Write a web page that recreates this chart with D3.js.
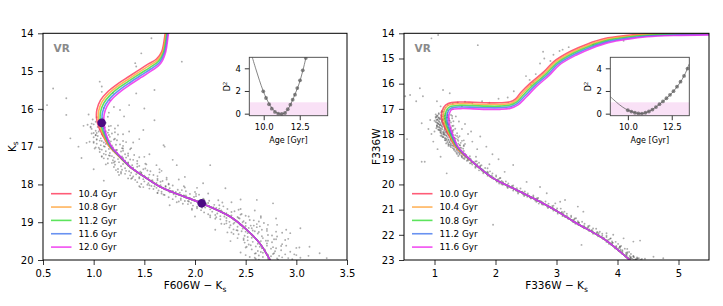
<!DOCTYPE html>
<html>
<head>
<meta charset="utf-8">
<script src="https://cdn.jsdelivr.net/npm/d3@7"></script>
<style>
body{margin:0;background:#fff}
svg{display:block;font-family:"DejaVu Sans",sans-serif}
</style>
</head>
<body>
<div id="chart"></div>
<script>
// ---- data ----
const leftAges = ["10.4 Gyr","10.8 Gyr","11.2 Gyr","11.6 Gyr","12.0 Gyr"];
const rightAges = ["10.0 Gyr","10.4 Gyr","10.8 Gyr","11.2 Gyr","11.6 Gyr"];
const isoColors = ["#ff3355","#ffa033","#33dd33","#4477ee","#ee22ee"];

// middle isochrone: [colour, mag, colour step per age, mag step per age]
const leftIso = [[1.735,13.8,0.008,0],[1.722,14.0,0.008,0],[1.69,14.5,0.009,0.01],[1.64,14.74,0.01,0.03],[1.556,14.9,0.008,0.045],
  [1.457,15.07,0.006,0.048],[1.36,15.24,0.006,0.048],[1.26,15.42,0.008,0.048],[1.165,15.63,0.012,0.045],[1.10,15.85,0.016,0.04],
  [1.068,16.08,0.018,0.03],[1.065,16.3,0.018,0.02],[1.08,16.5,0.015,0.01],[1.1,16.65,0.011,0.005],[1.16,16.98,0.006,0],
  [1.26,17.27,0.003,0],[1.375,17.57,0.001,0],[1.49,17.78,0,0],[1.655,18.06,0,0],[1.852,18.28,0,0],[2.066,18.5,0,0],
  [2.345,18.85,0,0],[2.51,19.2,0,0],[2.64,19.56,0,0],[2.74,20.0,0,0],[2.78,20.2,0,0]];
const rightIso = [[5.6,14.02,0,0.02],[4.915,14.04,0,0.025],[4.48,14.08,0.005,0.03],[4.15,14.16,0.01,0.035],[3.82,14.29,0.015,0.04],
  [3.55,14.5,0.02,0.04],[3.275,14.79,0.022,0.04],[3.0,15.19,0.022,0.035],[2.84,15.59,0.022,0.035],[2.62,16.05,0.022,0.04],
  [2.456,16.45,0.02,0.05],[2.35,16.72,0.01,0.06],[2.24,16.85,0,0.065],[2.07,16.89,0,0.065],[1.856,16.89,0,0.065],
  [1.636,16.87,0,0.065],[1.418,16.86,0.005,0.065],[1.254,16.91,0.015,0.06],[1.2,17.04,0.025,0.05],[1.172,17.31,0.03,0.03],
  [1.189,17.57,0.028,0.02],[1.254,17.97,0.02,0.01],[1.364,18.5,0.01,0],[1.528,18.9,0.004,0],[1.718,19.3,0,0],
  [1.964,19.76,0,0],[2.29,20.15,0,0],[2.62,20.55,0,0],[3.0,21.05,0,0],[3.3,21.5,0,0],[3.8,22.2,0,0],[4.2,23.0,0,0],[4.3,23.2,0,0]];

const leftMarkers = [[1.079,16.37],[2.066,18.5]];

// stars [colour, mag]
const leftStarsTurnoff = [[1.03,16.22],[1.09,16.25],[0.99,16.28],[1.14,16.21],[1.06,16.31],[1.02,16.34],[1.12,16.37],[0.98,16.39],[1.09,16.33],
[1.0,16.41],[1.07,16.44],[1.15,16.46],[1.04,16.48],[1.1,16.43],[0.97,16.49],[1.1,16.51],[0.98,16.53],[1.06,16.55],[1.15,16.56],[1.02,16.58],[1.12,16.59],[1.21,16.52],
[1.05,16.6],[1.11,16.62],[1.0,16.64],[1.18,16.65],[1.08,16.67],[1.24,16.68],[1.02,16.69],[1.14,16.63],
[1.09,16.71],[1.04,16.72],[1.16,16.74],[1.0,16.75],[1.13,16.76],[1.07,16.78],[1.21,16.79],[1.02,16.7],[1.11,16.77],
[1.03,16.8],[1.13,16.82],[1.23,16.83],[1.08,16.85],[1.17,16.86],[1.0,16.87],[1.32,16.88],[1.1,16.89],[1.06,16.84],[1.2,16.81],
[1.16,16.91],[1.03,16.92],[1.12,16.93],[1.22,16.95],[1.07,16.96],[1.18,16.97],[1.29,16.98],[1.1,16.99],[1.26,16.94],[1.0,16.9],
[1.11,17.0],[1.19,17.02],[1.05,17.03],[1.28,17.04],[1.15,17.06],[1.36,17.07],[1.08,17.08],[1.23,17.09],[1.01,17.05],[1.17,17.01],
[1.19,17.1],[1.12,17.12],[1.27,17.13],[1.06,17.14],[1.23,17.16],[1.16,17.17],[1.34,17.18],[1.1,17.19],[1.21,17.15],[1.29,17.11],
[1.12,17.21],[1.24,17.22],[1.34,17.24],[1.18,17.25],[1.28,17.26],[1.08,17.27],[1.45,17.28],[1.2,17.29],[1.15,17.23],[1.31,17.2],
[1.29,17.3],[1.14,17.32],[1.24,17.33],[1.36,17.34],[1.19,17.36],[1.31,17.37],[1.43,17.38],[1.21,17.39],[1.39,17.35],[1.1,17.31],
[1.25,17.41],[1.34,17.42],[1.18,17.43],[1.43,17.45],[1.29,17.46],[1.52,17.47],[1.21,17.48],[1.38,17.49],[1.14,17.44],[1.31,17.4],
[1.34,17.5],[1.27,17.52],[1.43,17.53],[1.2,17.54],[1.39,17.56],[1.31,17.57],[1.51,17.58],[1.24,17.59],[1.36,17.55],[1.45,17.51],
[1.28,17.61],[1.41,17.62],[1.53,17.63],[1.35,17.65],[1.46,17.66],[1.24,17.67],[1.65,17.68],[1.37,17.69],[1.32,17.64],[1.49,17.6],
[1.47,17.7],[1.31,17.72],[1.42,17.73],[1.55,17.74],[1.36,17.76],[1.5,17.77],[1.63,17.78],[1.39,17.79],[1.59,17.75],[1.27,17.71]];
const leftStarsMS = [[1.45,17.81],[1.54,17.82],[1.38,17.83],[1.63,17.85],[1.49,17.86],[1.72,17.87],[1.41,17.88],[1.58,17.89],[1.34,17.84],[1.51,17.8],
[1.57,17.9],[1.5,17.92],[1.66,17.93],[1.43,17.94],[1.62,17.96],[1.54,17.97],[1.74,17.98],[1.47,17.99],[1.59,17.95],[1.68,17.91],
[1.53,18.01],[1.66,18.02],[1.78,18.03],[1.6,18.05],[1.71,18.06],[1.49,18.07],[1.9,18.08],[1.62,18.09],[1.57,18.04],[1.74,18.0],
[1.75,18.1],[1.59,18.12],[1.7,18.13],[1.83,18.14],[1.64,18.16],[1.78,18.17],[1.91,18.18],[1.67,18.19],[1.87,18.15],[1.55,18.11],
[1.75,18.21],[1.85,18.22],[1.67,18.24],[1.95,18.25],[1.79,18.26],[2.04,18.27],[1.7,18.28],[1.89,18.29],[1.63,18.23],[1.81,18.2],
[1.89,18.3],[1.81,18.32],[1.99,18.33],[1.74,18.34],[1.95,18.36],[1.86,18.37],[2.08,18.38],[1.78,18.39],[1.91,18.35],[2.01,18.31],
[1.86,18.41],[2.0,18.42],[2.14,18.43],[1.94,18.45],[2.06,18.46],[1.82,18.47],[2.27,18.48],[1.96,18.49],[1.9,18.44],[2.09,18.4],
[2.11,18.5],[1.93,18.52],[2.05,18.53],[2.19,18.54],[1.98,18.56],[2.14,18.57],[2.28,18.58],[2.02,18.59],[2.24,18.55],[1.88,18.51],
[2.1,18.61],[2.21,18.62],[2.02,18.63],[2.32,18.65],[2.15,18.66],[2.43,18.67],[2.06,18.68],[2.26,18.69],[1.97,18.64],[2.18,18.6],
[2.25,18.7],[2.17,18.72],[2.36,18.73],[2.09,18.74],[2.31,18.76],[2.22,18.77],[2.46,18.78],[2.13,18.79],[2.28,18.75],[2.39,18.71],
[2.2,18.81],[2.36,18.82],[2.5,18.83],[2.29,18.85],[2.42,18.86],[2.15,18.87],[2.65,18.88],[2.31,18.89],[2.25,18.84],[2.45,18.8],
[2.44,18.9],[2.25,18.92],[2.38,18.93],[2.54,18.94],[2.31,18.96],[2.48,18.97],[2.63,18.98],[2.34,18.99],[2.58,18.95],[2.2,18.91],
[2.39,19.01],[2.5,19.02],[2.31,19.03],[2.61,19.05],[2.44,19.06],[2.72,19.07],[2.35,19.08],[2.55,19.09],[2.26,19.04],[2.47,19.0],
[2.5,19.1],[2.42,19.12],[2.61,19.13],[2.34,19.14],[2.56,19.16],[2.47,19.17],[2.71,19.18],[2.38,19.19],[2.53,19.15],[2.64,19.11],
[2.41,19.21],[2.57,19.22],[2.71,19.23],[2.5,19.25],[2.63,19.26],[2.36,19.27],[2.86,19.28],[2.52,19.29],[2.46,19.24],[2.66,19.2],
[2.62,19.3],[2.43,19.32],[2.56,19.33],[2.72,19.34],[2.49,19.36],[2.66,19.37],[2.81,19.38],[2.52,19.39],[2.76,19.35],[2.38,19.31],
[2.56,19.41],[2.67,19.42],[2.48,19.43],[2.78,19.45],[2.61,19.46],[2.89,19.47],[2.52,19.48],[2.72,19.49],
[2.65,19.5],[2.57,19.52],[2.76,19.53],[2.49,19.54],[2.71,19.56],[2.62,19.57],[2.86,19.58],[2.53,19.59],
[2.55,19.61],[2.71,19.62],[2.85,19.63],[2.64,19.65],[2.77,19.66],[2.5,19.67],[3.0,19.68],[2.66,19.69],
[2.75,19.7],[2.56,19.72],[2.69,19.73],[2.85,19.74],[2.62,19.76],[2.79,19.77],[2.94,19.78],[2.65,19.79],
[2.67,19.81],[2.78,19.82],[2.59,19.83],[2.89,19.85],[2.72,19.86],[3.0,19.87],[2.63,19.88],[2.83,19.89],
[2.75,19.9],[2.67,19.92],[2.86,19.93],[2.59,19.94],[2.81,19.96],[2.72,19.97],[2.96,19.98],[2.63,19.99]];
const leftStarsWide = [[0.94,16.42],[1.17,16.45],[0.97,16.47],[1.24,16.44],[1.11,16.49],
[1.21,16.62],[0.98,16.65],[1.29,16.67],[1.03,16.64],[1.15,16.69],[1.03,16.82],[1.29,16.85],[0.96,16.87],[1.15,16.84],[1.39,16.89],
[1.02,17.02],[1.29,17.05],[1.06,17.07],[1.37,17.04],[1.22,17.09],[1.4,17.22],[1.08,17.25],[1.5,17.27],[1.16,17.24],[1.32,17.29],
[1.2,17.42],[1.51,17.45],[1.12,17.47],[1.34,17.44],[1.62,17.49],[1.22,17.62],[1.56,17.65],[1.27,17.67],[1.67,17.64],[1.47,17.69],
[1.72,17.82],[1.37,17.85],[1.84,17.87],[1.45,17.84],[1.63,17.89],[1.55,18.02],[1.89,18.05],[1.46,18.07],[1.71,18.04],[2.02,18.09],
[1.63,18.22],[2.01,18.25],[1.69,18.27],[2.13,18.24],[1.91,18.29],[2.23,18.42],[1.84,18.45],[2.36,18.47],[1.93,18.44],[2.13,18.49],
[2.07,18.62],[2.45,18.65],[1.97,18.67],[2.24,18.64],[2.59,18.69],[2.15,18.82],[2.53,18.85],[2.21,18.87],[2.65,18.84],[2.43,18.89],
[2.68,19.02],[2.29,19.05],[2.81,19.07],[2.38,19.04],[2.58,19.09],[2.42,19.22],[2.8,19.25],[2.32,19.27],[2.59,19.24],[2.94,19.29],
[2.42,19.42],[2.8,19.45],[2.48,19.47],[2.92,19.44],[2.7,19.49],[2.9,19.62],[2.51,19.65],[3.03,19.67],[2.6,19.64],[2.8,19.69],
[2.6,19.82],[2.98,19.85],[2.5,19.87],[2.77,19.84],[3.12,19.89],[2.54,19.92],[2.92,19.95],[2.6,19.97],[3.04,19.94],[2.82,19.99]];
const leftField = [[1.41,14.79],[1.42,14.88],[1.47,14.53],[1.57,14.13],[0.6,15.46],[0.73,15.72],[0.54,15.9],[0.5,16.03],[0.73,16.16],
[0.77,16.78],[1.08,15.41],[1.08,15.55],[1.06,15.28],[1.16,15.77],[1.19,15.58],[1.26,16.03],[1.42,15.59],[1.49,16.56],[1.69,16.96],
[1.78,17.35],[1.5,15.99],[1.6,15.5],[1.87,14.75],[1.7,17.0],[1.82,17.49],[2.15,17.49],[2.08,17.97],[2.61,18.41],[2.77,18.5],
[2.8,18.9],[2.9,19.2],[3.04,19.16],[3.13,19.65],[3.23,19.82],[1.15,16.1],[1.2,15.95],[1.3,16.2],[1.35,15.9],[1.1,15.98],
[0.95,16.15],[0.9,16.45],[0.85,17.0],[0.88,17.3],[1.0,17.6],[1.1,17.9],[1.55,17.2],[1.65,17.6],[1.9,17.8],[2.0,18.2],
[2.3,18.1],[2.45,18.4],[1.35,16.6],[1.45,16.8],[1.6,16.3],[0.93,16.9],[1.25,17.75],[1.45,18.05],[1.75,18.55],[2.0,18.85],
[2.2,19.2],[2.35,19.5],[2.45,19.8],[3.3,19.95]];

const rightStarsTurnoff = [[1.16,17.02],[1.22,17.05],[1.12,17.08],[1.27,17.01],[1.15,17.1],[1.11,17.13],[1.21,17.15],[1.07,17.17],[1.18,17.19],[1.13,17.12],
[1.07,17.21],[1.14,17.22],[1.22,17.24],[1.11,17.25],[1.17,17.26],[1.04,17.27],[1.29,17.28],[1.12,17.29],
[1.14,17.3],[1.04,17.32],[1.11,17.33],[1.19,17.34],[1.07,17.36],[1.16,17.37],[1.24,17.38],[1.09,17.39],[1.21,17.35],[1.02,17.31],
[1.09,17.41],[1.15,17.42],[1.05,17.43],[1.2,17.45],[1.12,17.46],[1.25,17.47],[1.07,17.48],[1.17,17.49],[1.03,17.44],[1.13,17.4],
[1.12,17.5],[1.08,17.52],[1.18,17.53],[1.04,17.54],[1.15,17.56],[1.1,17.57],[1.22,17.58],[1.06,17.59],[1.13,17.55],[1.19,17.51],
[1.07,17.61],[1.14,17.62],[1.22,17.63],[1.11,17.65],[1.17,17.66],[1.04,17.67],[1.29,17.68],[1.12,17.69],[1.09,17.64],[1.19,17.6],
[1.16,17.7],[1.06,17.72],[1.13,17.73],[1.21,17.74],[1.09,17.76],[1.18,17.77],[1.26,17.78],[1.11,17.79],[1.23,17.75],[1.04,17.71],
[1.13,17.81],[1.19,17.82],[1.09,17.83],[1.24,17.85],[1.16,17.86],[1.29,17.87],[1.11,17.88],[1.21,17.89],[1.07,17.84],[1.17,17.8],
[1.18,17.9],[1.14,17.92],[1.24,17.93],[1.1,17.94],[1.21,17.96],[1.16,17.97],[1.28,17.98],[1.12,17.99],[1.19,17.95],[1.25,17.91],
[1.15,18.01],[1.22,18.02],[1.3,18.03],[1.19,18.05],[1.25,18.06],[1.12,18.07],[1.37,18.08],[1.2,18.09],[1.17,18.04],[1.27,18.0],
[1.25,18.1],[1.15,18.12],[1.22,18.13],[1.3,18.14],[1.18,18.16],[1.27,18.17],[1.35,18.18],[1.2,18.19],[1.32,18.15],[1.13,18.11],
[1.23,18.21],[1.29,18.22],[1.19,18.23],[1.34,18.25],[1.26,18.26],[1.39,18.27],[1.21,18.28],[1.31,18.29],[1.17,18.24],[1.27,18.2],
[1.29,18.3],[1.25,18.32],[1.35,18.33],[1.21,18.34],[1.32,18.36],[1.27,18.37],[1.39,18.38],[1.23,18.39],[1.3,18.35],
[1.26,18.41],[1.33,18.42],[1.41,18.43],[1.3,18.45],[1.36,18.46],[1.23,18.47],[1.48,18.48],[1.31,18.49],[1.28,18.44],
[1.37,18.5],[1.27,18.52],[1.34,18.53],[1.42,18.54],[1.3,18.56],[1.39,18.57],[1.47,18.58],[1.32,18.59],[1.44,18.55],
[1.36,18.61],[1.4,18.62],[1.32,18.63],[1.44,18.65],[1.37,18.66],[1.48,18.67],[1.34,18.68],[1.42,18.69],
[1.42,18.7],[1.39,18.72],[1.46,18.73],[1.36,18.74],[1.44,18.76],[1.41,18.77],[1.5,18.78],[1.37,18.79],
[1.41,18.81],[1.47,18.82],[1.52,18.83],[1.44,18.85],[1.49,18.86],[1.39,18.87],[1.58,18.88],[1.45,18.89],
[1.52,18.9],[1.45,18.92],[1.5,18.93],[1.56,18.94],[1.47,18.96],[1.54,18.97],[1.59,18.98],[1.49,18.99],
[1.02,17.22],[1.21,17.25],[1.05,17.27],[1.27,17.24],[1.16,17.29],[1.22,17.32],[1.02,17.35],[1.29,17.37],[1.07,17.34],[1.17,17.39],
[1.05,17.42],[1.24,17.45],[1.0,17.47],[1.14,17.44],[1.31,17.49],[1.02,17.52],[1.21,17.55],[1.05,17.57],[1.27,17.54],[1.16,17.59],
[1.24,17.62],[1.04,17.65],[1.31,17.67],[1.09,17.64],[1.19,17.69],[1.08,17.72],[1.27,17.75],[1.03,17.77],[1.17,17.74],[1.34,17.79],
[1.06,17.82],[1.25,17.85],[1.09,17.87],[1.31,17.84],[1.2,17.89],[1.3,17.92],[1.1,17.95],[1.37,17.97],[1.15,17.94],[1.25,17.99],
[1.15,18.02],[1.34,18.05],[1.1,18.07],[1.24,18.04],[1.41,18.09],[1.14,18.12],[1.33,18.15],[1.17,18.17],[1.39,18.14],[1.28,18.19],
[1.38,18.22],[1.18,18.25],[1.45,18.27],[1.23,18.24],[1.33,18.29],[1.24,18.32],[1.43,18.35],[1.19,18.37],[1.33,18.34],[1.5,18.39],
[1.23,18.42],[1.42,18.45],[1.26,18.47],[1.48,18.44],[1.37,18.49]];
const rightStarsMS = [[1.55,19.01],[1.6,19.04],[1.53,19.06],[1.67,19.09],[1.61,19.11],[1.73,19.14],[1.6,19.16],[1.7,19.19],
[1.62,19.21],[1.69,19.24],[1.75,19.26],[1.69,19.29],[1.75,19.31],[1.67,19.34],[1.87,19.36],[1.76,19.39],
[1.79,19.41],[1.73,19.44],[1.8,19.46],[1.87,19.49],[1.8,19.51],[1.88,19.54],[1.95,19.56],[1.86,19.59],
[1.88,19.61],[1.94,19.64],[1.87,19.66],[2.01,19.69],[1.95,19.71],[2.08,19.74],[1.95,19.76],[2.05,19.79],
[2.03,19.81],[2.02,19.84],[2.1,19.86],[2.02,19.89],[2.12,19.91],[2.11,19.94],[2.21,19.96],[2.1,19.99],
[2.12,20.01],[2.2,20.04],[2.27,20.06],[2.21,20.09],[2.28,20.11],[2.2,20.14],[2.41,20.16],[2.3,20.19],
[2.34,20.21],[2.29,20.24],[2.36,20.26],[2.44,20.29],[2.37,20.31],[2.46,20.34],[2.53,20.36],[2.45,20.39],
[2.47,20.41],[2.53,20.44],[2.47,20.46],[2.62,20.49],[2.56,20.51],[2.7,20.54],[2.58,20.56],[2.68,20.59],
[2.66,20.61],[2.65,20.64],[2.74,20.66],[2.67,20.69],[2.76,20.71],[2.76,20.74],[2.87,20.76],[2.76,20.79],
[2.78,20.81],[2.86,20.84],[2.93,20.86],[2.87,20.89],[2.94,20.91],[2.86,20.94],[3.07,20.96],[2.96,20.99],
[3.0,21.01],[2.95,21.04],[3.01,21.06],[3.09,21.09],[3.02,21.11],[3.11,21.14],[3.17,21.16],[3.09,21.19],
[3.11,21.21],[3.17,21.24],[3.1,21.26],[3.24,21.29],[3.19,21.31],[3.32,21.34],[3.19,21.36],[3.29,21.39],
[3.27,21.41],[3.26,21.44],[3.35,21.46],[3.27,21.49],[3.36,21.51],[3.36,21.54],[3.46,21.56],[3.35,21.59],
[3.37,21.61],[3.45,21.64],[3.52,21.66],[3.46,21.69],[3.52,21.71],[3.45,21.74],[3.65,21.76],[3.54,21.79],
[3.58,21.81],[3.53,21.84],[3.59,21.86],[3.67,21.89],[3.6,21.91],[3.69,21.94],[3.75,21.96],[3.67,21.99],
[3.69,22.01],[3.75,22.04],[3.68,22.06],[3.82,22.09],[3.76,22.11],[3.89,22.14],[3.76,22.16],[3.86,22.19],
[3.84,22.21],[3.82,22.24],[3.91,22.26],[3.82,22.29],[3.92,22.31],[3.9,22.34],[4.01,22.36],[3.89,22.39],
[3.91,22.41],[3.98,22.44],[4.04,22.46],[3.98,22.49],[4.04,22.51],[3.96,22.54],[4.16,22.56],[4.05,22.59],
[4.08,22.61],[4.02,22.64],[4.08,22.66],[4.16,22.69],[4.08,22.71],[4.16,22.74],[4.22,22.76],[4.14,22.79],
[4.15,22.81],[4.2,22.84],[4.13,22.86],[4.27,22.89],[4.21,22.91],[4.33,22.94],[4.2,22.96],[4.3,22.99],
[4.18,22.92],[4.24,22.95],[4.3,22.97],[4.22,22.88],[4.35,22.93],[4.27,22.99],[4.4,22.96],[4.2,22.98],[4.32,22.9],[4.26,22.86],[4.45,22.95],[4.38,22.99],
[1.55,19.05],[1.64,19.12],[1.69,19.08],[1.58,19.16],[1.77,19.24],[1.67,19.29],[1.73,19.33],[1.83,19.35],
[1.77,19.45],[1.86,19.52],[1.91,19.48],[1.8,19.56],[2.01,19.64],[1.91,19.69],[1.97,19.73],[2.07,19.75],
[2.03,19.85],[2.12,19.92],[2.17,19.88],[2.06,19.96],[2.29,20.04],[2.19,20.09],[2.25,20.13],[2.35,20.15],
[2.34,20.25],[2.43,20.32],[2.48,20.28],[2.37,20.36],[2.62,20.44],[2.52,20.49],[2.58,20.53],[2.68,20.55],
[2.68,20.65],[2.77,20.72],[2.82,20.68],[2.71,20.76],[2.95,20.84],[2.85,20.89],[2.91,20.93],[3.01,20.95],
[2.99,21.05],[3.08,21.12],[3.13,21.08],[3.02,21.16],[3.24,21.24],[3.14,21.29],[3.2,21.33],[3.3,21.35],
[3.28,21.45],[3.37,21.52],[3.42,21.48],[3.31,21.56],[3.54,21.64],[3.44,21.69],[3.5,21.73],[3.6,21.75],
[3.57,21.85],[3.66,21.92],[3.71,21.88],[3.6,21.96],[3.82,22.04],[3.72,22.09],[3.78,22.13],[3.88,22.15],
[3.83,22.25],[3.92,22.32],[3.97,22.28],[3.86,22.36],[4.06,22.44],[3.96,22.49],[4.02,22.53],[4.12,22.55],
[4.05,22.65],[4.14,22.72],[4.19,22.68],[4.08,22.76],[4.26,22.84],[4.16,22.89],[4.22,22.93],[4.32,22.95]];
const rightField = [[1.06,14.07],[0.95,14.2],[1.71,14.47],[2.78,14.73],[0.52,16.5],[0.6,16.45],[0.76,16.18],[0.81,16.5],[1.04,16.7],
[1.14,16.25],[1.25,16.38],[0.79,17.57],[0.93,17.44],[0.79,19.1],[0.84,19.1],[1.2,19.56],[1.96,21.6],[2.29,19.23],[2.51,19.9],
[2.73,20.1],[2.84,20.35],[2.98,20.75],[3.06,20.69],[3.14,20.62],[3.35,20.88],[3.44,21.08],[3.82,21.94],[3.93,22.0],[4.1,22.14],
[4.26,22.27],[4.37,22.23],[4.59,22.87],[4.75,22.93],[3.41,22.4],[4.04,22.47],[1.5,16.72],[1.62,16.78],[1.78,16.7],[1.9,16.76],
[2.05,16.6],[2.5,15.7],[2.56,15.85],[2.62,15.95],[2.58,16.05],[2.66,15.62],[2.73,15.2],[2.8,15.0],[2.95,14.85],[3.05,14.7],
[3.1,14.65],[2.9,15.1],[3.2,14.55],[4.1,14.3],[3.6,14.45],[2.3,16.3],[2.2,16.55],[1.45,17.8],[1.55,18.0],[1.62,18.3],[1.7,18.6],
[1.5,17.6],[1.75,18.1],[1.85,18.5],[1.95,18.8],[2.05,19.0],[1.4,17.5],[1.6,17.9],[1.9,19.2],[2.15,19.5],[1.68,18.9],[1.35,17.3],
[1.3,17.0],[1.48,18.25],[0.95,18.0],[0.98,18.3],[1.0,17.9],[0.9,17.8],[1.05,18.6],[1.1,18.9],[0.7,16.7],[0.55,18.2],
[1.18,16.95],[1.22,16.85],[1.3,16.8],[1.38,16.75],[1.45,16.9],[1.1,16.9]];

// inset: age [Gyr] vs D^2
const leftFitCurve = [[9.2,5.0],[9.45,3.95],[9.7,2.95],[9.95,2.05],[10.2,1.3],[10.45,0.72],[10.7,0.28],[10.95,0.04],[11.2,-0.04],
  [11.45,0.06],[11.7,0.42],[11.95,1.05],[12.2,1.8],[12.45,2.62],[12.7,3.72],[12.95,5.05]];
const leftFitPoints = [[9.97,1.97],[10.16,1.38],[10.37,0.83],[10.56,0.44],[10.78,0.15],[11.01,0.0],[11.25,-0.03],[11.48,0.06],
  [11.67,0.39],[11.85,0.79],[12.01,1.23],[12.17,1.67],[12.33,2.26],[12.52,2.94],[12.71,3.82],[12.92,4.91]];
const rightFitCurve = [[9.0,1.5],[9.52,0.79],[9.9,0.39],[10.28,0.15],[10.66,0.0],[11.04,0.09],[11.42,0.39],[11.8,0.83],
  [12.18,1.32],[12.56,1.91],[12.93,2.64],[13.22,3.38],[13.5,4.4]];
const rightFitPoints = [[10.0,0.3],[10.2,0.18],[10.4,0.08],[10.6,0.02],[10.8,0.01],[11.0,0.08],[11.2,0.19],[11.4,0.36],[11.6,0.58],
  [11.8,0.84],[12.0,1.08],[12.2,1.36],[12.4,1.66],[12.6,1.98],[12.8,2.38],[13.0,2.82],[13.2,3.33],[13.4,3.98]];

const leftXTicks = [0.5,1.0,1.5,2.0,2.5,3.0,3.5];
const leftYTicks = [14,15,16,17,18,19,20];
const rightXTicks = [1,2,3,4,5];
const rightYTicks = [14,15,16,17,18,19,20,21,22,23];
const insetXTicks = [10.0,12.5];
const insetYTicks = [0,2,4];

// ---- drawing ----
const svg = d3.select("#chart").append("svg").attr("width",723).attr("height",306);
svg.append("rect").attr("width",723).attr("height",306).attr("fill","#fff");

function styleAxis(g, size){
  g.select(".domain").remove();
  g.selectAll(".tick line").attr("stroke","#000").attr("stroke-width",0.8);
  g.selectAll(".tick text").attr("fill","#000").style("font-size",size+"px").style("font-family","DejaVu Sans");
}

function drawPanel(p){
  const x = d3.scaleLinear().domain(p.xDomain).range([p.left,p.right]);
  const y = d3.scaleLinear().domain(p.yDomain).range([p.top,p.bottom]);
  svg.append("clipPath").attr("id",p.id).append("rect")
    .attr("x",p.left).attr("y",p.top).attr("width",p.right-p.left).attr("height",p.bottom-p.top);
  const g = svg.append("g").attr("clip-path",`url(#${p.id})`);

  g.selectAll(null).data(p.stars).join("circle")
    .attr("cx",d=>x(d[0])).attr("cy",d=>y(d[1])).attr("r",0.95)
    .attr("fill","#3a3a3a").attr("fill-opacity",0.42);

  const line = d3.line().x(d=>x(d[0])).y(d=>y(d[1])).curve(d3.curveCatmullRom.alpha(0.5));
  p.ages.forEach((a,i)=>{
    const k = i-2;
    const pts = p.iso.map(d=>[d[0]+k*d[2], d[1]+k*d[3]]);
    g.append("path").attr("d",line(pts)).attr("fill","none")
      .attr("stroke",isoColors[i]).attr("stroke-width",1.6).attr("stroke-opacity",0.8);
  });

  if(p.markers){
    g.selectAll(null).data(p.markers).join("circle")
      .attr("cx",d=>x(d[0])).attr("cy",d=>y(d[1])).attr("r",4.3).attr("fill","#4b0a82");
  }

  svg.append("g").attr("transform",`translate(0,${p.bottom})`)
    .call(d3.axisBottom(x).tickValues(p.xTicks).tickFormat(p.xFormat).tickSize(5).tickPadding(4.5))
    .call(g=>styleAxis(g,10));
  svg.append("g").attr("transform",`translate(${p.left},0)`)
    .call(d3.axisLeft(y).tickValues(p.yTicks).tickFormat(d3.format("d")).tickSize(5).tickPadding(4.5))
    .call(g=>styleAxis(g,10));
  svg.append("rect").attr("x",p.left).attr("y",p.top).attr("width",p.right-p.left).attr("height",p.bottom-p.top)
    .attr("fill","none").attr("stroke","#000").attr("stroke-width",1);

  svg.append("text").attr("x",p.left+10.5).attr("y",52.3).text("VR")
    .attr("fill","#8a8a8a").style("font-weight","bold").style("font-size","10.5px");

  // legend
  p.ages.forEach((a,i)=>{
    const yy = 193.7 + i*13.35;
    svg.append("line").attr("x1",p.left+8).attr("x2",p.left+28.5).attr("y1",yy).attr("y2",yy)
      .attr("stroke",isoColors[i]).attr("stroke-width",1.6).attr("stroke-opacity",0.8);
    svg.append("text").attr("x",p.left+35.5).attr("y",yy+3.2).text(a).style("font-size","8.8px");
  });

  // x label
  const xl = svg.append("text").attr("x",(p.left+p.right)/2).attr("y",289.3).attr("text-anchor","middle").style("font-size","10.5px");
  xl.append("tspan").text(p.xLabel+" \u2212 K");
  xl.append("tspan").text("s").attr("dy",2.5).style("font-size","7.5px");
  // y label
  const yl = svg.append("text").attr("transform",`translate(${p.yLabelX},${(p.top+p.bottom)/2}) rotate(-90)`)
    .attr("text-anchor","middle").style("font-size","10.5px");
  yl.append("tspan").text(p.yLabel);
  if(p.yLabelSub) yl.append("tspan").text(p.yLabelSub).attr("dy",2.5).style("font-size","7.5px");

  drawInset(p.inset);
}

function drawInset(q){
  const x = d3.scaleLinear().domain(q.xDomain).range([q.left,q.right]);
  const y = d3.scaleLinear().domain([-0.18,4.97]).range([q.bottom,q.top]);
  svg.append("rect").attr("x",q.left).attr("y",q.top).attr("width",q.right-q.left).attr("height",q.bottom-q.top).attr("fill","#fff");
  svg.append("clipPath").attr("id",q.id).append("rect")
    .attr("x",q.left).attr("y",q.top).attr("width",q.right-q.left).attr("height",q.bottom-q.top);
  const g = svg.append("g").attr("clip-path",`url(#${q.id})`);
  g.append("rect").attr("x",q.left).attr("y",y(1)).attr("width",q.right-q.left).attr("height",q.bottom-y(1)).attr("fill","#f9e1f6");
  g.append("path").attr("d",d3.line().x(d=>x(d[0])).y(d=>y(d[1])).curve(d3.curveCatmullRom)(q.curve))
    .attr("fill","none").attr("stroke","#666").attr("stroke-width",0.8);
  g.selectAll(null).data(q.points).join("circle")
    .attr("cx",d=>x(d[0])).attr("cy",d=>y(d[1])).attr("r",1.9)
    .attr("fill","#555").attr("fill-opacity",0.7);

  svg.append("g").attr("transform",`translate(0,${q.bottom})`)
    .call(d3.axisBottom(x).tickValues(insetXTicks).tickFormat(d3.format(".1f")).tickSize(4.5).tickPadding(3.5))
    .call(g=>styleAxis(g,8.5));
  svg.append("g").attr("transform",`translate(${q.left},0)`)
    .call(d3.axisLeft(y).tickValues(insetYTicks).tickFormat(d3.format("d")).tickSize(4.5).tickPadding(4))
    .call(g=>styleAxis(g,8.5));
  svg.append("rect").attr("x",q.left).attr("y",q.top).attr("width",q.right-q.left).attr("height",q.bottom-q.top)
    .attr("fill","none").attr("stroke","#444").attr("stroke-width",0.9);

  svg.append("text").attr("x",(q.left+q.right)/2).attr("y",142.5).attr("text-anchor","middle")
    .style("font-size","8px").text("Age [Gyr]");
  const dl = svg.append("text").attr("transform",`translate(${q.left-19},${(q.top+q.bottom)/2}) rotate(-90)`)
    .attr("text-anchor","middle").style("font-size","8px");
  dl.append("tspan").text("D");
  dl.append("tspan").text("2").attr("dy",-3).style("font-size","5.5px");
}

drawPanel({
  id:"clipL", left:43, right:347, top:33.3, bottom:260,
  xDomain:[0.5,3.5], yDomain:[14,20], xTicks:leftXTicks, yTicks:leftYTicks, xFormat:d3.format(".1f"),
  stars:leftField.concat(leftStarsTurnoff, leftStarsMS, leftStarsWide), iso:leftIso, ages:leftAges, markers:leftMarkers,
  xLabel:"F606W", yLabel:"K", yLabelSub:"s", yLabelX:15.5,
  inset:{id:"clipLi", left:249.3, right:327.7, top:57.3, bottom:115.7, xDomain:[9,14.44], curve:leftFitCurve, points:leftFitPoints}
});
drawPanel({
  id:"clipR", left:404, right:709, top:33.3, bottom:260,
  xDomain:[0.5,5.5], yDomain:[14,23], xTicks:rightXTicks, yTicks:rightYTicks, xFormat:d3.format("d"),
  stars:rightField.concat(rightStarsTurnoff, rightStarsMS), iso:rightIso, ages:rightAges,
  xLabel:"F336W", yLabel:"F336W", yLabelX:380,
  inset:{id:"clipRi", left:610.3, right:689.3, top:57.3, bottom:115.7, xDomain:[9,13.5], curve:rightFitCurve, points:rightFitPoints}
});
</script>
</body>
</html>
